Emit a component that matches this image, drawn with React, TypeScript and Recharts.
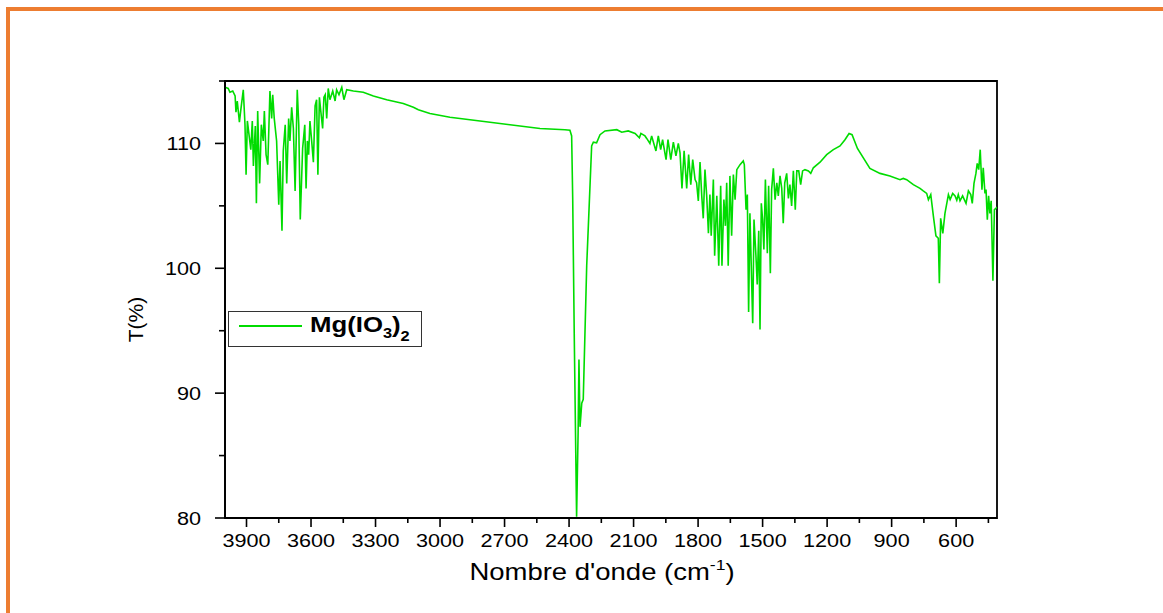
import { Label, Legend, Line, LineChart, ReferenceArea, XAxis, YAxis } from "recharts";

const wavenumbers = [
  4000, 3985, 3977, 3964, 3953, 3949, 3943, 3933, 3927, 3915, 3907, 3902, 3896, 3887, 3880, 3873, 3868, 3859,
  3854, 3848, 3839, 3831, 3822, 3817, 3809, 3801, 3791, 3783, 3778, 3771, 3760, 3750, 3744, 3735, 3729, 3720,
  3713, 3704, 3698, 3690, 3682, 3674, 3664, 3657, 3650, 3639, 3629, 3623, 3617, 3611, 3605, 3597, 3589, 3581,
  3574, 3568, 3561, 3554, 3546, 3540, 3534, 3527, 3520, 3512, 3499, 3488, 3481, 3470, 3457, 3447, 3434, 3403,
  3357, 3310, 3248, 3171, 3124, 3101, 3047, 2954, 2814, 2675, 2535, 2419, 2396, 2388, 2383, 2376, 2365, 2358,
  2354, 2349, 2341, 2334, 2318, 2295, 2287, 2272, 2256, 2233, 2178, 2155, 2125, 2093, 2073, 2066, 2047, 2039,
  2024, 2016, 1996, 1985, 1974, 1965, 1949, 1940, 1927, 1915, 1903, 1892, 1884, 1875, 1865, 1853, 1844, 1834,
  1825, 1814, 1807, 1799, 1791, 1783, 1776, 1768, 1760, 1752, 1745, 1739, 1729, 1723, 1713, 1704, 1695, 1689,
  1680, 1673, 1667, 1660, 1652, 1644, 1636, 1628, 1620, 1605, 1590, 1585, 1577, 1571, 1565, 1559, 1546, 1540,
  1531, 1525, 1518, 1512, 1506, 1500, 1494, 1487, 1478, 1472, 1464, 1458, 1450, 1442, 1434, 1427, 1419, 1411,
  1404, 1397, 1388, 1380, 1373, 1365, 1357, 1348, 1341, 1332, 1323, 1314, 1303, 1287, 1276, 1264, 1233, 1202,
  1171, 1140, 1117, 1098, 1084, 1059, 1001, 954, 908, 861, 846, 830, 799, 768, 753, 737, 729, 718, 706, 694,
  683, 678, 672, 662, 652, 636, 628, 616, 605, 597, 590, 582, 570, 554, 543, 532, 525, 517, 508, 502, 495, 488,
  480, 474, 466, 461, 455, 449, 443, 437, 429, 422, 415, 410,
];

const transmittance = [
  114.5, 114.4, 114.1, 114.2, 113.8, 112.5, 113.4, 111.7, 112.6, 114.3, 111.5, 107.5, 111.8, 110.5, 109.5, 111.8, 108.2, 111.4,
  105.2, 112.6, 106.8, 111.5, 110.2, 112.6, 109.1, 108.3, 114.2, 112.0, 113.9, 112.0, 110.2, 105.1, 108.6, 103.0, 109.4, 111.5,
  106.8, 112.0, 110.2, 112.9, 111.2, 106.2, 114.3, 111.5, 103.9, 109.6, 111.5, 106.4, 110.2, 109.1, 111.8, 110.2, 108.5, 113.0,
  113.5, 107.5, 113.7, 112.5, 111.2, 113.7, 113.9, 112.0, 114.4, 113.5, 114.2, 113.4, 114.3, 113.9, 114.5, 113.5, 114.3, 114.2,
  114.1, 113.8, 113.5, 113.2, 112.9, 112.7, 112.4, 112.1, 111.8, 111.5, 111.2, 111.1, 111.05, 110.6, 105.5, 94.8, 80.1, 86.8,
  92.7, 87.3, 89.2, 89.5, 100.2, 109.8, 110.1, 110.05, 110.7, 111.0, 111.1, 110.9, 111.0, 110.8, 110.45, 110.8, 110.6, 110.4,
  110.0, 110.6, 109.4, 110.6, 109.5, 110.3, 108.7, 110.3, 108.7, 110.1, 109.0, 110.0, 109.25, 106.4, 109.4, 106.4, 109.1, 106.7,
  108.7, 107.1, 106.85, 105.4, 108.5, 105.8, 104.0, 107.9, 105.8, 102.8, 105.9, 102.6, 107.1, 101.0, 105.8, 100.2, 106.6, 100.2,
  105.5, 103.4, 106.85, 100.2, 107.4, 102.6, 107.5, 105.5, 107.9, 108.3, 108.6, 108.3, 104.7, 105.9, 96.5, 104.4, 95.6, 103.9,
  101.0, 98.7, 103.0, 95.1, 105.2, 103.9, 101.5, 107.1, 101.2, 106.6, 99.6, 106.3, 108.0, 105.5, 106.85, 105.8, 107.4, 106.4,
  103.6, 106.85, 107.6, 105.6, 106.7, 105.0, 107.8, 104.7, 107.8, 107.8, 106.7, 107.8, 107.9, 107.8, 107.6, 108.05, 108.5, 109.1,
  109.5, 109.8, 110.3, 110.8, 110.7, 109.6, 108.0, 107.6, 107.4, 107.1, 107.2, 107.1, 106.7, 106.4, 106.2, 106.0, 105.5, 105.9, 104.2, 102.6,
  102.4, 98.8, 104.0, 102.8, 104.4, 105.9, 105.5, 106.0, 105.8, 105.45, 105.9, 105.4, 105.8, 105.2, 106.2, 105.9, 105.2, 106.8, 107.6, 108.4, 107.9, 109.5,
  106.3, 108.05, 106.0, 106.3, 103.9, 105.8, 104.4, 105.4, 99.0, 104.7, 104.8, 104.9,
];

const xTicks = [3900, 3750, 3600, 3450, 3300, 3150, 3000, 2850, 2700, 2550, 2400, 2250, 2100, 1950, 1800, 1650, 1500, 1350, 1200, 1050, 900, 750, 600, 450];
const xLabelTicks = [3900, 3600, 3300, 3000, 2700, 2400, 2100, 1800, 1500, 1200, 900, 600];
const yTicks = [80, 85, 90, 95, 100, 105, 110, 115];
const yLabelTicks = [80, 90, 100, 110];

const data = wavenumbers.map((wn, i) => ({ wn, T: transmittance[i] }));

const FONT = "'Liberation Sans', Arial, sans-serif";
const STRETCH = 1.17;
const GREEN = "#00DC00";

function XTick(props: any) {
  const { x, y, payload } = props;
  const major = xLabelTicks.includes(payload.value);
  return (
    <g>
      <line x1={x} x2={x} y1={y} y2={y + (major ? 9 : 5)} stroke="#000" strokeWidth={1.6} />
      {major && (
        <text
          transform={`translate(${x},${y + 16}) scale(${STRETCH},1)`}
          textAnchor="middle"
          dy="0.72em"
          fontSize={18.5}
          fontFamily={FONT}
          fill="#000"
        >
          {payload.value}
        </text>
      )}
    </g>
  );
}

function YTick(props: any) {
  const { x, y, payload } = props;
  const major = yLabelTicks.includes(payload.value);
  return (
    <g>
      <line x1={x - (major ? 10 : 6)} x2={x} y1={y} y2={y} stroke="#000" strokeWidth={1.6} />
      {major && (
        <text
          transform={`translate(${x - 24},${y}) scale(${STRETCH},1)`}
          textAnchor="end"
          dy="0.36em"
          fontSize={18.5}
          fontFamily={FONT}
          fill="#000"
        >
          {payload.value}
        </text>
      )}
    </g>
  );
}

function renderLegend() {
  return (
    <div
      style={{
        width: 194,
        height: 36,
        boxSizing: "border-box",
        border: "1px solid #333",
        background: "#fff",
        position: "relative",
        fontFamily: FONT,
      }}
    >
      <div style={{ position: "absolute", left: 10, top: 13, width: 63, height: 2, background: GREEN }} />
      <div
        style={{
          position: "absolute",
          left: 81,
          top: 2,
          fontSize: 22,
          lineHeight: "22px",
          fontWeight: "bold",
          whiteSpace: "nowrap",
          transform: `scaleX(${STRETCH})`,
          transformOrigin: "left top",
        }}
      >
        Mg(IO<span style={{ fontSize: 14, position: "relative", top: 6 }}>3</span>)
        <span style={{ fontSize: 14, position: "relative", top: 9 }}>2</span>
      </div>
    </div>
  );
}

export default function App() {
  return (
    <div style={{ position: "absolute", left: 0, top: 0, width: 1163, height: 613, background: "#fff", overflow: "hidden" }}>
      <div
        style={{
          position: "absolute",
          left: 6,
          top: 7,
          width: 1163,
          height: 613,
          borderTop: "4px solid #ED7D31",
          borderLeft: "4px solid #ED7D31",
        }}
      />
      <LineChart width={1163} height={613} data={data} margin={{ top: 81, right: 166, left: 165, bottom: 35 }}>
        <XAxis
          dataKey="wn"
          type="number"
          domain={[410, 4000]}
          reversed
          allowDataOverflow
          ticks={xTicks}
          interval={0}
          tickSize={0}
          tickMargin={0}
          tick={<XTick />}
          height={60}
          axisLine={{ stroke: "#000", strokeWidth: 1.8 }}
        >
          <Label
            content={(p: any) => {
              const vb = p.viewBox;
              return (
                <text
                  transform={`translate(${vb.x + vb.width / 2 - 9},${vb.y + 62}) scale(${STRETCH},1)`}
                  textAnchor="middle"
                  fontSize={23.5}
                  fontFamily={FONT}
                  fill="#000"
                >
                  Nombre d'onde (cm
                  <tspan fontSize={15} dy={-10}>-1</tspan>
                  <tspan dy={10}>)</tspan>
                </text>
              );
            }}
          />
        </XAxis>
        <YAxis
          type="number"
          domain={[80, 115]}
          allowDataOverflow
          ticks={yTicks}
          interval={0}
          tickSize={0}
          tickMargin={0}
          tick={<YTick />}
          width={60}
          axisLine={{ stroke: "#000", strokeWidth: 1.8 }}
        >
          <Label
            content={(p: any) => {
              const vb = p.viewBox;
              const cx = vb.x - 30;
              const cy = vb.y + vb.height / 2 + 20;
              return (
                <text
                  transform={`translate(${cx},${cy}) rotate(-90)`}
                  textAnchor="middle"
                  dy="0.36em"
                  fontSize={21}
                  fontFamily={FONT}
                  fill="#000"
                >
                  T(%)
                </text>
              );
            }}
          />
        </YAxis>
        <ReferenceArea x1={4000} x2={410} y1={80} y2={115} fill="none" stroke="#000" strokeWidth={1.8} />
        <Legend
          content={renderLegend}
          layout="horizontal"
          align="center"
          verticalAlign="middle"
          wrapperStyle={{ left: 228, top: 311, width: 194, height: 36 }}
        />
        <Line
          type="linear"
          dataKey="T"
          name="Mg(IO3)2"
          stroke={GREEN}
          strokeWidth={1.6}
          dot={false}
          isAnimationActive={false}
        />
      </LineChart>
    </div>
  );
}
